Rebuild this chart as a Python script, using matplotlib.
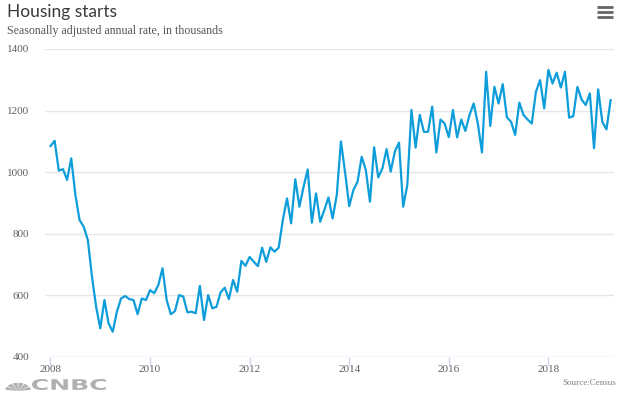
import numpy as np
import matplotlib
matplotlib.use("Agg")
import matplotlib.pyplot as plt
from matplotlib.patches import Wedge, PathPatch
from matplotlib.textpath import TextPath
from matplotlib.font_manager import FontProperties
from matplotlib.transforms import Affine2D

# monthly housing starts, SAAR, thousands (Jan 2008 - Apr 2019)
y2008 = [1085, 1102, 1005, 1010, 975, 1045, 926, 845, 823, 780, 660, 563]
y2009 = [493, 585, 509, 482, 547, 590, 598, 588, 585, 539, 590, 585]
y2010 = [617, 607, 634, 688, 585, 539, 549, 601, 596, 545, 547, 542]
y2011 = [631, 520, 601, 558, 563, 610, 625, 588, 650, 612, 712, 696]
y2012 = [725, 709, 695, 755, 709, 756, 742, 755, 845, 915, 834, 977]
y2013 = [888, 953, 1009, 836, 931, 839, 877, 918, 850, 926, 1100, 1000]
y2014 = [890, 942, 969, 1050, 1007, 904, 1081, 983, 1012, 1075, 1002, 1067]
y2015 = [1096, 888, 958, 1202, 1080, 1186, 1131, 1131, 1213, 1064, 1171, 1158]
y2016 = [1114, 1202, 1113, 1171, 1134, 1186, 1223, 1158, 1064, 1326, 1150, 1277]
y2017 = [1223, 1286, 1178, 1164, 1121, 1226, 1186, 1171, 1158, 1261, 1299, 1207]
y2018 = [1332, 1288, 1323, 1275, 1326, 1177, 1182, 1277, 1236, 1218, 1256, 1078]
y2019 = [1269, 1164, 1139, 1234]

starts = y2008 + y2009 + y2010 + y2011 + y2012 + y2013 + y2014 + y2015 + y2016 + y2017 + y2018 + y2019
xtick_years = [2008, 2010, 2012, 2014, 2016, 2018]
yticks = [400, 600, 800, 1000, 1200, 1400]

x = 2008 + np.arange(len(starts)) / 12.0

W, H = 622, 394
fig = plt.figure(figsize=(W / 100, H / 100), dpi=100)
fig.patch.set_facecolor("white")

ax = fig.add_axes([45 / W, 1 - 357 / H, (614 - 45) / W, (357 - 49) / H])
ax.set_xlim(2008 - 5.5 / 49.8, 2019.25 + 3.4 / 49.8)
ax.set_ylim(400, 1400)

for v in yticks[1:]:
    ax.axhline(v, color="#e6e6e6", lw=1, zorder=1)
ax.axhline(400, color="#ccd6eb", lw=1, zorder=1)

ax.plot(x, starts, color="#0d9ddb", lw=1.6, zorder=3, solid_joinstyle="round")

for s in ax.spines.values():
    s.set_visible(False)
ax.set_yticks(yticks)
ax.set_yticklabels([str(v) for v in yticks], family="Liberation Serif", fontsize=8, color="#606060")
ax.tick_params(axis="y", length=0, pad=11.5)
ax.set_xticks(xtick_years)
ax.set_xticklabels([str(v) for v in xtick_years], family="Liberation Serif", fontsize=8, color="#606060")
ax.tick_params(axis="x", length=6, width=1, color="#ccd6eb", pad=0)

fig.text(7 / W, 1 - 12 / H, "Housing starts", family="Lato",
         fontsize=12.5, color="#3a3a3a", va="center", ha="left")
fig.text(7 / W, 1 - 31 / H, "Seasonally adjusted annual rate, in thousands",
         family="Liberation Serif", fontsize=8.6, color="#555555", va="center", ha="left")
fig.text(616 / W, 1 - 383 / H, "Source:Census", family="Liberation Serif",
         fontsize=6.5, color="#808080", va="center", ha="right")

# menu icon
for yy in [7, 12, 17]:
    fig.add_artist(plt.Line2D([597 / W, 613 / W], [1 - yy / H, 1 - yy / H],
                              color="#666666", lw=2, solid_capstyle="butt"))

# CNBC logo, in pixel coordinates
tp = TextPath((0, 0), "CNBC", size=15, prop=FontProperties(family="DejaVu Sans", weight="bold"))
bb = tp.get_extents()
tr = Affine2D().translate(-bb.x0, -bb.y0).scale(74 / bb.width, 11 / bb.height).translate(32, H - 390)
fig.add_artist(PathPatch(tr.transform_path(tp), color="#b0b0b0", lw=0, transform=Affine2D()))
cx, cy = 18, 391
for i in range(6):
    a0 = 8 + i * 28
    fig.add_artist(Wedge((cx / W, 1 - cy / H), 13 / W, a0, a0 + 23,
                         transform=fig.transFigure, color="#b0b0b0", lw=0))

fig.savefig("out.png", dpi=100)
